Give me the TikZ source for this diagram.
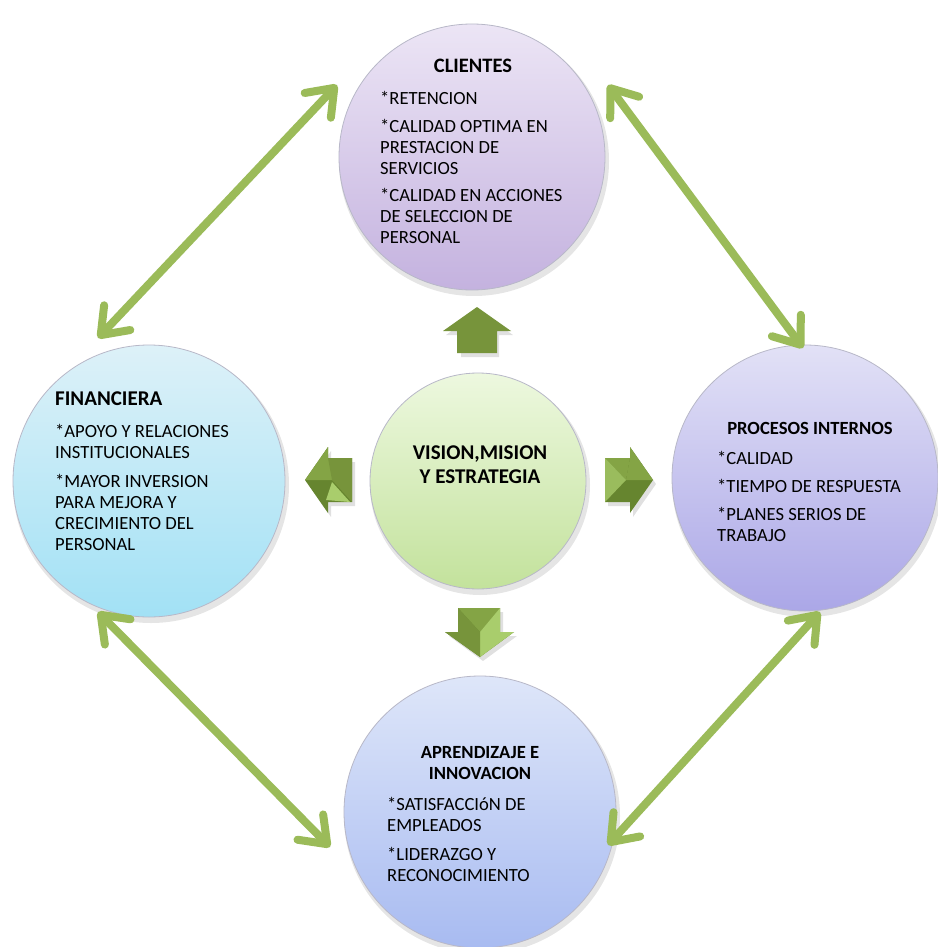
\documentclass[tikz,border=0pt]{standalone}
\usepackage{fontspec}
\setmainfont{Carlito}
\usetikzlibrary{arrows.meta}
\definecolor{agreen}{HTML}{9BBB59}
\definecolor{gdark}{HTML}{66852F}
\definecolor{gmid}{HTML}{77943B}
\definecolor{gmid2}{HTML}{84A445}
\definecolor{glight}{HTML}{A9CD6C}
\definecolor{rim}{HTML}{B8B8C8}
\definecolor{cliT}{HTML}{ECE5F5}
\definecolor{cliB}{HTML}{C4B2DF}
\definecolor{finT}{HTML}{DDF1F8}
\definecolor{finB}{HTML}{A2E1F5}
\definecolor{proT}{HTML}{E2E1F6}
\definecolor{proB}{HTML}{ABA7E7}
\definecolor{aprT}{HTML}{DEE6F9}
\definecolor{aprB}{HTML}{A8BBF1}
\definecolor{visT}{HTML}{EDF8DF}
\definecolor{visB}{HTML}{C3E29C}
\tikzset{
  bubble/.style={circle, inner sep=0pt, draw=rim, line width=0.8pt},
  shadowc/.style={circle, inner sep=0pt, fill=black, fill opacity=0.10, draw=none},
  txt/.style={inner sep=0pt, font=\fontsize{18.6pt}{21pt}\selectfont, text=black},
  hdr/.style={inner sep=0pt, font=\fontsize{18.6pt}{21pt}\selectfont\bfseries, text=black},
  bighdr/.style={inner sep=0pt, font=\fontsize{21pt}{24pt}\selectfont\bfseries, text=black},
  link/.style={draw=agreen, line width=8pt, line cap=round,
    {Straight Barb[length=24pt,width=36pt,round]}-{Straight Barb[length=24pt,width=36pt,round]}}
}
\begin{document}
\begin{tikzpicture}[x=1pt,y=-1pt]
\useasboundingbox (0,0) rectangle (937,947);
\fill[white] (0,0) rectangle (937,947);

% shadows
\node[shadowc, minimum size=270pt] (clis) at (474,161) {};
\node[shadowc, minimum size=276pt] (fins) at (151,485) {};
\node[shadowc, minimum size=270pt] (pros) at (807,482) {};
\node[shadowc, minimum size=276pt] (aprs) at (482,816) {};
\node[shadowc, minimum size=220pt] (viss) at (480,485) {};

% circles
\node[bubble, minimum size=266pt, top color=cliT, bottom color=cliB] (cli) at (472,157) {};
\node[bubble, minimum size=272pt, top color=finT, bottom color=finB] (fin) at (149,481) {};
\node[bubble, minimum size=266pt, top color=proT, bottom color=proB] (pro) at (805,478) {};
\node[bubble, minimum size=272pt, top color=aprT, bottom color=aprB] (apr) at (480,812) {};
\node[bubble, minimum size=216pt, top color=visT, bottom color=visB] (vis) at (478,481) {};

% texts
\node[bighdr, font=\fontsize{20.5pt}{24pt}\selectfont\bfseries] (clih) at (473,66) {CLIENTES};
\node[txt, anchor=north west, align=left] (clit) at (380,91)
  {*RETENCION\\[7pt]*CALIDAD OPTIMA EN\\PRESTACION DE\\SERVICIOS\\[6pt]*CALIDAD EN ACCIONES\\DE SELECCION DE\\PERSONAL};
\node[bighdr, anchor=west] (finh) at (55,399) {FINANCIERA};
\node[txt, anchor=north west, align=left] (fint) at (55,424)
  {*APOYO Y RELACIONES\\INSTITUCIONALES\\[8pt]*MAYOR INVERSION\\PARA MEJORA Y\\CRECIMIENTO DEL\\PERSONAL};
\node[hdr] (proh) at (810,428) {PROCESOS INTERNOS};
\node[txt, anchor=north west, align=left] (prot) at (717,451)
  {*CALIDAD\\[7pt]*TIEMPO DE RESPUESTA\\[7pt]*PLANES SERIOS DE\\TRABAJO};
\node[hdr, align=center] (aprh) at (480,763) {APRENDIZAJE E\\INNOVACION};
\node[txt, anchor=north west, align=left] (aprt) at (387,797)
  {*SATISFACCIóN DE\\EMPLEADOS\\[8pt]*LIDERAZGO Y\\RECONOCIMIENTO};
\node[bighdr, align=center] (vist) at (480,465) {VISION,MISION\\Y ESTRATEGIA};

% diagonal double arrows
\coordinate (a1) at (98,338);  \coordinate (a2) at (337,85);
\coordinate (b1) at (608,85);  \coordinate (b2) at (803,348);
\coordinate (c1) at (98,612);  \coordinate (c2) at (330,847);
\coordinate (d1) at (820,612); \coordinate (d2) at (608,845);
\path[link] (a1) -- (a2);
\path[link] (b1) -- (b2);
\path[link] (c1) -- (c2);
\path[link] (d1) -- (d2);

% small block arrows
% up
\fill[black, opacity=0.12] (479,311) -- (513,335) -- (499,335) -- (499,357) -- (461,357) -- (461,335) -- (446,335) -- cycle;
\fill[gmid] (477,307) -- (511,331) -- (497,331) -- (497,353) -- (457,353) -- (457,331) -- (443,331) -- cycle;
% left
\fill[black, opacity=0.12] (308,484) -- (331,451) -- (331,462) -- (355,462) -- (355,506) -- (331,506) -- (331,517) -- cycle;
\fill[gdark] (305,480) -- (328,447) -- (328,458) -- (352,458) -- (352,502) -- (328,502) -- (328,513) -- cycle;
\fill[gmid2] (305,480) -- (328,447) -- (328,458) -- (352,458) -- (332,480) -- cycle;
\fill[gmid] (328,458) -- (352,458) -- (352,502) -- (332,480) -- cycle;
\fill[glight] (332,482) -- (350,502) -- (326,500) -- cycle;
% right
\fill[black, opacity=0.12] (656,484) -- (633,451) -- (633,462) -- (608,462) -- (608,506) -- (633,506) -- (633,517) -- cycle;
\fill[gdark] (653,480) -- (630,447) -- (630,458) -- (605,458) -- (605,502) -- (630,502) -- (630,513) -- cycle;
\fill[gmid2] (605,458) -- (630,458) -- (626,480) -- cycle;
\fill[glight!70!gmid] (605,458) -- (626,480) -- (605,502) -- cycle;
\fill[gmid2] (653,480) -- (630,447) -- (630,458) -- (626,480) -- cycle;
% down
\fill[black, opacity=0.12] (483,661) -- (449,636) -- (461,636) -- (461,612) -- (503,612) -- (503,636) -- (517,636) -- cycle;
\fill[gdark] (480,657) -- (445,632) -- (458,632) -- (458,608) -- (500,608) -- (500,632) -- (514,632) -- cycle;
\fill[gmid2] (458,608) -- (500,608) -- (480,632) -- cycle;
\fill[glight] (500,608) -- (500,632) -- (514,632) -- (480,657) -- (480,632) -- cycle;
\fill[gmid] (458,608) -- (480,632) -- (480,657) -- (445,632) -- (458,632) -- cycle;
\end{tikzpicture}
\end{document}
